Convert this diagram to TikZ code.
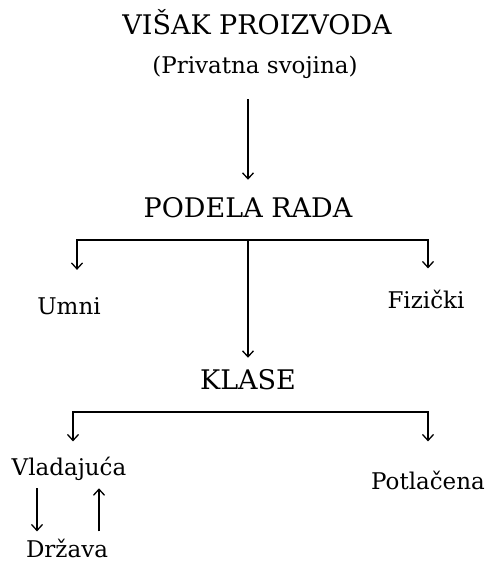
\documentclass[tikz,border=0pt]{standalone}
\usepackage{fontspec}
\setmainfont{DejaVu Serif}
\usetikzlibrary{arrows.meta, positioning}

\begin{document}
\begin{tikzpicture}[x=1pt, y=-1pt,
    caps/.style={font=\fontsize{27}{31}\selectfont, inner sep=0pt, anchor=base},
    lbl/.style={font=\fontsize{23}{27}\selectfont, inner sep=0pt, anchor=base},
    arr/.style={line width=1.4pt, -{Straight Barb[length=6pt, width=11pt, line width=1.3pt]}}]
    \useasboundingbox (0,0) rectangle (487,563);

    % vrh
    \node[caps] (visak) at (257,34) {VIŠAK PROIZVODA};
    \node[lbl] (privatna) at (255,73) {(Privatna svojina)};

    % podela rada
    \node[caps] (podela) at (248,217) {PODELA RADA};
    \node[lbl] (umni) at (69,314) {Umni};
    \node[lbl] (fizicki) at (426,308) {Fizički};
    \coordinate (fork1) at (248,240);

    % klase
    \node[caps] (klase) at (248,389) {KLASE};
    \node[lbl] (vladajuca) at (69,475) {Vladajuća};
    \node[lbl] (potlacena) at (428,489) {Potlačena};
    \coordinate (fork2) at (248,412);

    % drzava
    \node[lbl] (drzava) at (67,557) {Država};
    \coordinate (dl) at ([xshift=-32pt]vladajuca.south);
    \coordinate (dr) at ([xshift=30pt]vladajuca.south);

    \draw[arr, shorten <=21pt, shorten >=17pt] (podela.north |- privatna.south) -- (podela.north);
    \draw[arr, shorten >=27pt] (fork1) -| ([xshift=8pt]umni.north);
    \draw[arr, shorten >=21pt] (fork1) -| ([xshift=2pt]fizicki.north);
    \draw[arr, shorten >=11pt] (fork1) -- (klase.north);
    \draw[arr, shorten >=15pt] (fork2) -| ([xshift=4pt]vladajuca.north);
    \draw[arr, shorten >=29pt] (fork2) -| (potlacena.north);
    \draw[arr, shorten <=8pt, shorten >=7pt] (dl) -- (dl |- drzava.north);
    \draw[arr, shorten <=7pt, shorten >=8pt] (dr |- drzava.north) -- (dr);
\end{tikzpicture}
\end{document}
